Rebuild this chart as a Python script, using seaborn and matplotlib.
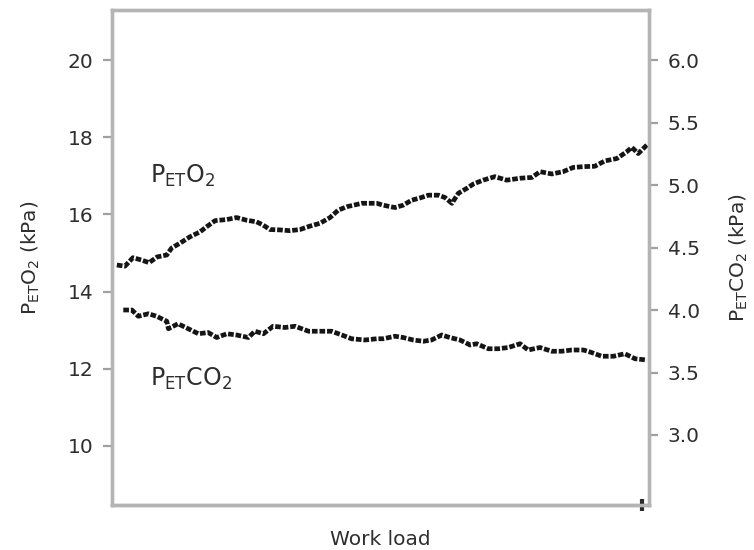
import matplotlib
matplotlib.use("Agg")
import matplotlib.pyplot as plt
import seaborn as sns
import pandas as pd

# Work load (arbitrary units, 0-100 across the test)
load_o2 = [0.9, 2.4, 3.9, 5.5, 6.9, 8.4, 10.2, 11.1, 12.7, 14.5, 16.4, 17.6, 19.2, 21.4,
           23.2, 25.1, 26.9, 28.1, 29.4, 31.3, 33.1, 35.0, 36.9, 38.7, 40.6, 42.1, 43.7,
           46.5, 49.3, 50.5, 52.7, 54.2, 55.8, 57.4, 58.9, 60.8, 62.0, 63.3, 64.5, 66.1,
           67.3, 69.1, 71.3, 73.5, 76.0, 78.2, 79.7, 81.9, 84.0, 85.9, 87.8, 89.9, 91.8,
           94.0, 95.8, 96.8, 98.0, 99.6]
# End-tidal O2 partial pressure (kPa)
pet_o2 = [14.69, 14.66, 14.88, 14.82, 14.75, 14.90, 14.95, 15.13, 15.26, 15.42, 15.55,
          15.68, 15.84, 15.87, 15.92, 15.85, 15.81, 15.73, 15.61, 15.60, 15.58, 15.61,
          15.70, 15.77, 15.92, 16.11, 16.20, 16.29, 16.29, 16.24, 16.18, 16.24, 16.37,
          16.43, 16.50, 16.50, 16.44, 16.29, 16.55, 16.68, 16.79, 16.89, 16.98, 16.89,
          16.94, 16.96, 17.11, 17.05, 17.11, 17.22, 17.24, 17.25, 17.39, 17.45, 17.62,
          17.74, 17.58, 17.80]

load_co2 = [2.1, 3.7, 4.9, 6.8, 8.3, 10.2, 10.5, 12.3, 14.2, 16.1, 17.9, 19.5, 21.4, 23.2,
            25.4, 26.6, 28.2, 30.0, 32.2, 34.1, 36.6, 38.7, 40.9, 42.8, 44.6, 47.1, 49.3,
            50.5, 52.7, 54.2, 56.1, 58.0, 59.5, 61.4, 62.9, 64.8, 66.7, 67.9, 70.1, 71.9,
            73.8, 76.0, 77.5, 79.7, 81.9, 83.7, 85.6, 87.8, 89.3, 91.2, 93.4, 95.5, 97.4,
            99.6]
# End-tidal CO2 partial pressure (kPa)
pet_co2 = [4.00, 4.00, 3.95, 3.97, 3.95, 3.91, 3.85, 3.89, 3.85, 3.81, 3.82, 3.78, 3.81,
           3.80, 3.78, 3.83, 3.81, 3.87, 3.86, 3.87, 3.83, 3.83, 3.83, 3.80, 3.77, 3.76,
           3.77, 3.77, 3.79, 3.78, 3.76, 3.75, 3.76, 3.80, 3.78, 3.76, 3.72, 3.73, 3.69,
           3.69, 3.70, 3.73, 3.68, 3.70, 3.67, 3.67, 3.68, 3.68, 3.66, 3.63, 3.63, 3.65,
           3.61, 3.60]

o2_ticks = [10, 12, 14, 16, 18, 20]
co2_ticks = [3.0, 3.5, 4.0, 4.5, 5.0, 5.5, 6.0]

sns.set_theme(style="white")
plt.rcParams["font.family"] = ["DejaVu Sans"]
plt.rcParams["mathtext.fontset"] = "dejavusans"

df_o2 = pd.DataFrame({"load": load_o2, "value": pet_o2})
df_co2 = pd.DataFrame({"load": load_co2, "value": pet_co2})

fig = plt.figure(figsize=(7.54, 5.5), dpi=100)
ax = fig.add_axes([112 / 754, 1 - 505 / 550, (649 - 112) / 754, 495 / 550])
ax2 = ax.twinx()

trace = dict(color="#151515", linewidth=3.4, dashes=(1.2, 0.4), legend=False)
sns.lineplot(data=df_o2, x="load", y="value", ax=ax, **trace)
sns.lineplot(data=df_co2, x="load", y="value", ax=ax2, **trace)

ax.set_xlim(0, 100)
ax.set_ylim(8.47, 21.3)
ax2.set_ylim(2.44, 6.40)

text_color = "#2e2e2e"
ax.set_yticks(o2_ticks)
ax.set_yticklabels([str(t) for t in o2_ticks])
ax2.set_yticks(co2_ticks)
ax2.set_yticklabels([f"{t:.1f}" for t in co2_ticks])

for a in (ax, ax2):
    a.tick_params(axis="y", direction="out", length=6.5, width=1.6, color="#a0a0a0",
                  labelsize=14.5, labelcolor=text_color, pad=7)
    for s in a.spines.values():
        s.set_color("#b4b4b4")
        s.set_linewidth(2.4)
    a.set_xlabel("")
    a.set_ylabel("")

ax.spines["bottom"].set_color("#8a8a8a")

# single end marker on the work-load axis
ax.set_xticks([98.7])
ax.set_xticklabels([""])
ax.tick_params(axis="x", direction="inout", length=8, width=3, color="#2a2a2a",
               bottom=True, pad=0)

ax.set_xlabel("Work load", fontsize=14.5, color=text_color, labelpad=14)
ax.set_ylabel(r"$\mathrm{P_{ET}O_2}$ (kPa)", fontsize=14.5, color=text_color, labelpad=18)
ax2.set_ylabel(r"$\mathrm{P_{ET}CO_2}$ (kPa)", fontsize=14.5, color=text_color, labelpad=20)

ax.text(0.071, 0.665, r"$\mathrm{P_{ET}O_2}$", transform=ax.transAxes, fontsize=17,
        color=text_color, va="center", ha="left")
ax.text(0.071, 0.255, r"$\mathrm{P_{ET}CO_2}$", transform=ax.transAxes, fontsize=17,
        color=text_color, va="center", ha="left")

fig.savefig("out.png", dpi=100)
